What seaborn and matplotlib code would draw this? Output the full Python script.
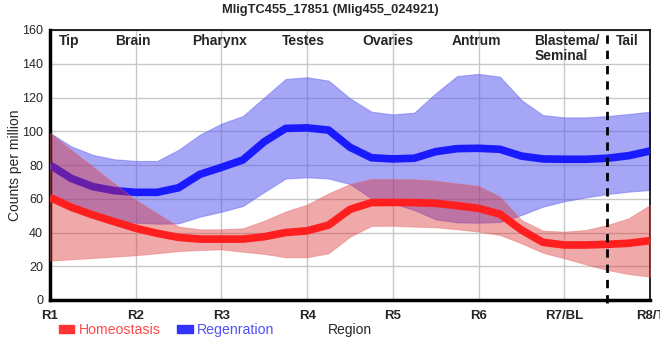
import numpy as np
import pandas as pd
import matplotlib
matplotlib.use("Agg")
import matplotlib.pyplot as plt
from matplotlib.patches import Rectangle
import seaborn as sns

# ---- data ----
positions = [1.0, 1.25, 1.5, 1.75, 2.0, 2.25, 2.5, 2.75, 3.0, 3.25, 3.5, 3.75,
             4.0, 4.25, 4.5, 4.75, 5.0, 5.25, 5.5, 5.75, 6.0, 6.25, 6.5, 6.75,
             7.0, 7.25, 7.5, 7.75, 8.0]

homeo_mean = [60.8, 54.9, 50.4, 46.4, 42.5, 39.5, 37.1, 36.1, 36.1, 36.1, 37.5, 40.0,
              41.0, 44.4, 53.7, 57.7, 57.8, 57.7, 57.3, 55.9, 54.3, 50.9, 41.5, 34.2,
              32.6, 32.6, 33.0, 33.6, 35.2]
homeo_upper = [99.0, 88.9, 79.0, 69.1, 59.3, 51.4, 43.5, 41.9, 41.9, 42.5, 47.0, 52.5,
               56.5, 63.2, 68.7, 71.7, 71.7, 71.5, 70.7, 69.1, 67.6, 61.2, 47.4, 41.1,
               40.5, 41.5, 44.4, 48.4, 56.3]
homeo_lower = [23.3, 24.1, 24.9, 25.7, 26.5, 27.7, 29.0, 29.6, 30.0, 28.6, 27.3, 25.3,
               25.3, 27.7, 37.5, 43.9, 44.0, 43.5, 43.1, 41.9, 40.5, 38.5, 33.6, 28.0,
               24.7, 21.1, 17.8, 15.4, 13.8]

regen_mean = [80.0, 72.0, 67.2, 64.8, 63.8, 63.8, 66.5, 74.5, 78.6, 83.0, 93.8, 101.7,
              102.0, 100.7, 90.5, 84.3, 83.6, 84.0, 87.9, 89.7, 89.9, 89.3, 85.3, 83.6,
              83.4, 83.4, 84.0, 85.5, 88.3]
regen_upper = [99.0, 91.0, 86.0, 83.4, 82.4, 82.4, 89.0, 98.0, 104.5, 109.0, 120.0, 131.0,
               132.0, 130.0, 119.5, 111.6, 110.0, 111.0, 122.5, 132.7, 134.0, 132.3, 118.5, 109.6,
               108.2, 108.2, 109.0, 110.2, 111.6]
regen_lower = [61.0, 55.0, 50.5, 47.5, 45.8, 45.2, 45.4, 49.4, 52.3, 55.7, 64.0, 72.0,
               72.7, 72.0, 68.7, 60.2, 57.3, 53.3, 47.8, 46.0, 45.8, 46.2, 50.4, 55.3,
               58.5, 60.8, 62.8, 64.2, 65.2]

tick_pos = [1, 2, 3, 4, 5, 6, 7, 8]
tick_labels = ["R1", "R2", "R3", "R4", "R5", "R6", "R7/BL", "R8/T"]

region_names = ["Tip", "Brain", "Pharynx", "Testes", "Ovaries", "Antrum", "Blastema/\nSeminal", "Tail"]
region_x = [1.22, 1.97, 2.98, 3.96, 4.94, 5.98, 6.65, 7.74]
region_ha = ["center", "center", "center", "center", "center", "center", "left", "center"]

series_names = ["Homeostasis", "Regenration"]
title = "MligTC455_17851 (Mlig455_024921)"

# ---- style ----
sns.set_style("white")
plt.rcParams["font.family"] = ["Liberation Sans", "DejaVu Sans"]

fig = plt.figure(figsize=(6.6, 3.6), dpi=100)
ax = fig.add_axes([50 / 660, 60 / 360, 600 / 660, 270 / 360])

red_line = "#ff1f1f"
blue_line = "#1a1aff"
red_band = (0.86, 0.16, 0.16)
blue_band = (0.31, 0.31, 0.94)

ax.set_xlim(1, 8)
ax.set_ylim(0, 160)
ax.set_yticks(np.arange(0, 161, 20))
ax.set_xticks(tick_pos)
ax.set_xticklabels(tick_labels, fontweight="bold", fontsize=9.5)
ax.tick_params(axis="y", labelsize=9, length=4, width=1, color="black", pad=1)
ax.tick_params(axis="x", length=5, width=1, color="black", pad=2)
ax.grid(True, color="#c8c8c8", lw=1)
ax.set_axisbelow(True)

# bands and lines
ax.fill_between(positions, regen_lower, regen_upper, color=blue_band, alpha=0.5,
                edgecolor=(0.4, 0.4, 0.95, 0.6), lw=0.8, zorder=2)
sns.lineplot(x=positions, y=regen_mean, ax=ax, color=blue_line, lw=5.5,
             solid_joinstyle="round", solid_capstyle="butt", zorder=3)
ax.fill_between(positions, homeo_lower, homeo_upper, color=red_band, alpha=0.4,
                edgecolor=(0.9, 0.4, 0.4, 0.6), lw=0.8, zorder=4)
sns.lineplot(x=positions, y=homeo_mean, ax=ax, color=red_line, lw=5.5,
             solid_joinstyle="round", solid_capstyle="butt", zorder=5)

ax.plot([7.5, 7.5], [-2, 160], color="black", lw=2, ls=(0, (3.0, 2.5)),
        clip_on=False, zorder=6)

for name, xx, ha in zip(region_names, region_x, region_ha):
    ax.text(xx, 157.5, name, ha=ha, va="top", fontsize=10, fontweight="bold",
            linespacing=1.05, zorder=7)

for side in ["left", "bottom"]:
    ax.spines[side].set_linewidth(2.5)
    ax.spines[side].set_color("black")
for side in ["top", "right"]:
    ax.spines[side].set_linewidth(1.2)
    ax.spines[side].set_color("black")
    ax.spines[side].set_visible(True)

ax.set_xlabel("Region", fontsize=10)
ax.xaxis.set_label_coords(0.5, -0.111)
ax.xaxis.label.set_va("center")
ax.set_ylabel("Counts per million", fontsize=10)
ax.yaxis.set_label_coords(-0.058, 0.5)
ax.yaxis.label.set_va("center")

fig.text(0.5, 1 - 10 / 360, title, ha="center", va="center",
         fontsize=9.3, fontweight="bold")

handles = [Rectangle((0, 0), 1, 1, color="#ff3333"),
           Rectangle((0, 0), 1, 1, color="#3333ff")]
leg = fig.legend(handles, series_names, loc="center left",
                 bbox_to_anchor=(53 / 660, 30 / 360), ncol=2, frameon=False,
                 fontsize=10.2, handlelength=1.1, handleheight=0.5,
                 handletextpad=0.3, columnspacing=1.2, borderaxespad=0)
for t, c in zip(leg.get_texts(), ["#ff4a4a", "#5050ff"]):
    t.set_color(c)

fig.savefig("out.png", dpi=100)
